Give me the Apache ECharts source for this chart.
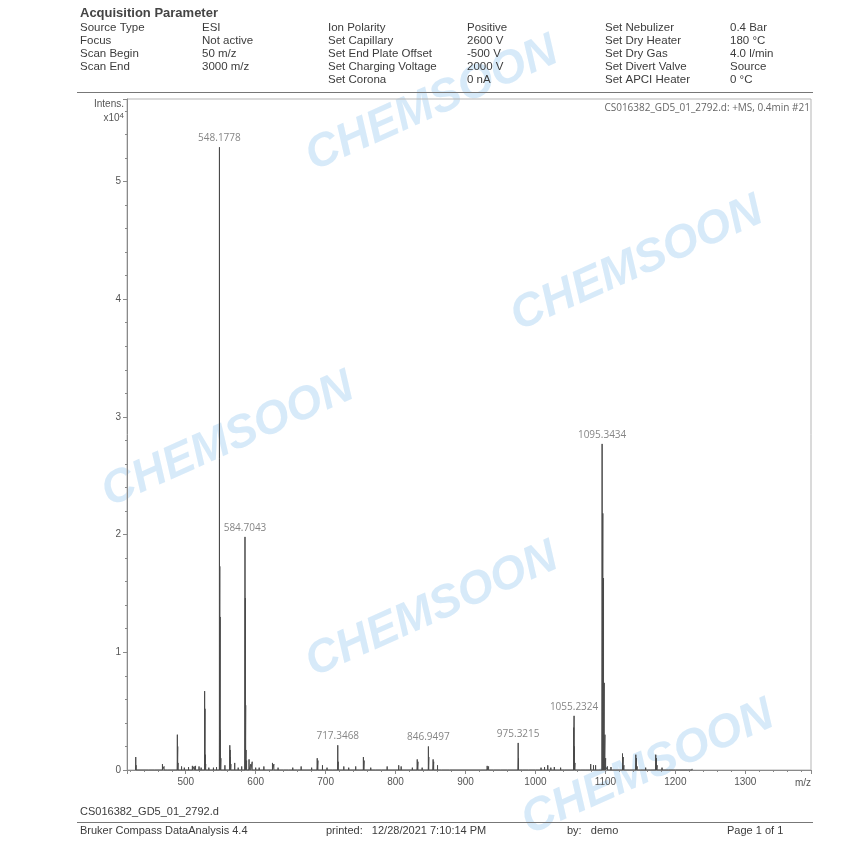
<!DOCTYPE html>
<html>
<head>
<meta charset="utf-8">
<script src="https://cdn.jsdelivr.net/npm/echarts@6/dist/echarts.min.js"></script>
<style>
  html, body { margin: 0; padding: 0; background: #fff; }
  #chart { width: 868px; height: 841px; }
</style>
</head>
<body>
<div id="chart"></div>
<script>
// Mass spectrum, +MS 0.4 min #21: peak centroids (m/z) and intensities (x10^4)
const mzValues = [
  428.5, 429.0, 436, 447, 455, 466.7, 469.0, 474, 488.0, 488.5, 489.0, 494.0, 498,
  504, 509.5, 512, 514.0, 519.0, 522, 527.0, 527.5, 528.0, 528.5, 533, 539.6, 544,
  548.1778, 548.68, 549.18, 549.68, 550.2, 556.0, 563.0, 563.5, 564.0, 564.5, 570.0,
  575, 580, 584.7043, 585.2, 585.7, 586.2, 587, 590.5, 593, 595.0, 600, 605, 611.7,
  616, 624.0, 626.0, 632, 640, 647, 653.0, 660, 665.0, 672, 680, 688.0, 689.0, 695.5,
  702, 710, 717.3468, 718, 726.0, 733, 743.0, 748, 754.0, 755.0, 764.5, 771, 780,
  788.0, 795, 804.5, 808.0, 815, 824.0, 831.0, 832.0, 838, 846.9497, 847.5, 853.7,
  854.5, 860.0, 866, 877, 885, 895, 905, 915, 922, 931.0, 933.0, 940, 950, 960, 968,
  975.3215, 975.8, 981, 990, 1000, 1008.0, 1013.0, 1017.6, 1022, 1027.0, 1036.0, 1042,
  1054.7, 1055.2324, 1055.7, 1056.5, 1064, 1071, 1079.0, 1083.0, 1086.0, 1090,
  1095.3434, 1096.35, 1097.35, 1098.35, 1099.35, 1100.35, 1103.0, 1108.0, 1115,
  1124.5, 1125.5, 1126.5, 1135, 1143.5, 1144.5, 1145.5, 1150, 1157.6, 1165, 1172.0,
  1173.0, 1174, 1181.0, 1190, 1200, 1217, 1224
];
const intensValues = [
  0.11, 0.04, 0.015, 0.012, 0.015, 0.05, 0.03, 0.015, 0.30, 0.20, 0.06, 0.03, 0.02,
  0.025, 0.035, 0.03, 0.035, 0.03, 0.02, 0.67, 0.52, 0.13, 0.05, 0.02, 0.02, 0.025,
  5.29, 1.73, 1.30, 0.34, 0.10, 0.04, 0.21, 0.17, 0.11, 0.05, 0.06,
  0.02, 0.03, 1.98, 1.46, 0.55, 0.17, 0.08, 0.09, 0.05, 0.07, 0.02, 0.02, 0.03,
  0.015, 0.06, 0.05, 0.02, 0.015, 0.015, 0.02, 0.015, 0.03, 0.015, 0.02, 0.10, 0.08, 0.04,
  0.02, 0.015, 0.21, 0.07, 0.03, 0.02, 0.03, 0.015, 0.11, 0.08, 0.02, 0.015, 0.015,
  0.03, 0.015, 0.04, 0.03, 0.015, 0.02, 0.09, 0.07, 0.02, 0.20, 0.11, 0.09,
  0.07, 0.04, 0.015, 0.015, 0.015, 0.012, 0.015, 0.012, 0.015, 0.035, 0.03, 0.015, 0.012, 0.012, 0.015,
  0.23, 0.10, 0.015, 0.015, 0.015, 0.02, 0.025, 0.04, 0.02, 0.025, 0.02, 0.015,
  0.36, 0.46, 0.20, 0.06, 0.015, 0.015, 0.05, 0.04, 0.04, 0.015,
  2.77, 2.18, 1.63, 0.74, 0.30, 0.10, 0.03, 0.025, 0.015,
  0.14, 0.11, 0.04, 0.015, 0.13, 0.10, 0.03, 0.015, 0.02, 0.015, 0.13,
  0.10, 0.04, 0.02, 0.012, 0.01, 0.01, 0.01
];
// Annotated peaks
const labeledMz = [548.1778, 584.7043, 717.3468, 846.9497, 975.3215, 1055.2324, 1095.3434];

// Axis ranges
const mzMin = 416, mzMax = 1394;
const intensMax = 5.7;

// Header block: [label, value] pairs by column
const headerCol1 = [['Source Type', 'ESI'], ['Focus', 'Not active'], ['Scan Begin', '50 m/z'], ['Scan End', '3000 m/z']];
const headerCol2 = [['Ion Polarity', 'Positive'], ['Set Capillary', '2600 V'], ['Set End Plate Offset', '-500 V'], ['Set Charging Voltage', '2000 V'], ['Set Corona', '0 nA']];
const headerCol3 = [['Set Nebulizer', '0.4 Bar'], ['Set Dry Heater', '180 °C'], ['Set Dry Gas', '4.0 l/min'], ['Set Divert Valve', 'Source'], ['Set APCI Heater', '0 °C']];

const spectrumTitle = 'CS016382_GD5_01_2792.d: +MS, 0.4min #21';
const footerName = 'CS016382_GD5_01_2792.d';
const footerItems = [
  ['Bruker Compass DataAnalysis 4.4', 80],
  ['printed:   12/28/2021 7:10:14 PM', 326],
  ['by:   demo', 567],
  ['Page 1 of 1', 727]
];
const watermarkText = 'CHEMSOON';
const watermarkCenters = [[432, 104], [637, 264], [228, 440], [432, 610], [648, 768]];

// Build stick profile: each peak rises from and returns to the baseline
const profile = [];
mzValues.forEach((m, i) => {
  profile.push([m, 0], [m, intensValues[i]], [m, 0]);
});
const labelPoints = labeledMz.map(m => [m, intensValues[mzValues.indexOf(m)]]);

const headerFont = 'Liberation Sans, Arial, sans-serif';
const textColor = '#3c3c3c';
const graphics = [];

// watermark (behind everything)
watermarkCenters.forEach(([x, y]) => {
  graphics.push({
    type: 'text', x, y, rotation: 0.42, z: -10, silent: true,
    style: {
      text: watermarkText, fill: 'rgba(205,229,247,0.8)',
      font: 'italic bold 46px Liberation Sans, Arial, sans-serif',
      align: 'center', verticalAlign: 'middle'
    }
  });
});

graphics.push({
  type: 'text', x: 80, y: 13,
  style: { text: 'Acquisition Parameter', font: 'bold 13px ' + headerFont, fill: '#444', verticalAlign: 'middle' }
});
const rowY = [28, 41, 54, 67, 80];
function addColumn(rows, xl, xv) {
  rows.forEach(([l, v], i) => {
    graphics.push({ type: 'text', x: xl, y: rowY[i], style: { text: l, font: '11.5px ' + headerFont, fill: textColor, verticalAlign: 'middle' } });
    graphics.push({ type: 'text', x: xv, y: rowY[i], style: { text: v, font: '11.5px ' + headerFont, fill: textColor, verticalAlign: 'middle' } });
  });
}
addColumn(headerCol1, 80, 202);
addColumn(headerCol2, 328, 467);
addColumn(headerCol3, 605, 730);
graphics.push({ type: 'line', shape: { x1: 77, y1: 92.5, x2: 813, y2: 92.5 }, style: { stroke: '#777', lineWidth: 1.2 } });

// plot annotations
graphics.push({
  type: 'text', x: 124, y: 104,
  style: { text: 'Intens.', font: '10px ' + headerFont, fill: '#555', align: 'right', verticalAlign: 'middle' }
});
graphics.push({
  type: 'text', x: 124, y: 118,
  style: {
    text: '{a|x10}{b|4}', align: 'right', verticalAlign: 'middle',
    rich: { a: { font: '10px ' + headerFont, fill: '#555' }, b: { font: '8px ' + headerFont, fill: '#555', verticalAlign: 'top', padding: [0, 0, 5, 0] } }
  }
});
graphics.push({
  type: 'text', x: 810, y: 108,
  style: { text: spectrumTitle, font: '10px Open Sans, sans-serif', fill: '#666', align: 'right', verticalAlign: 'middle' }
});
graphics.push({
  type: 'text', x: 811, y: 783,
  style: { text: 'm/z', font: '10px ' + headerFont, fill: '#555', align: 'right', verticalAlign: 'middle' }
});

// footer
graphics.push({ type: 'text', x: 80, y: 812, style: { text: footerName, font: '11px ' + headerFont, fill: textColor, verticalAlign: 'middle' } });
graphics.push({ type: 'line', shape: { x1: 77, y1: 822.5, x2: 813, y2: 822.5 }, style: { stroke: '#777', lineWidth: 1.2 } });
footerItems.forEach(([t, x]) => {
  graphics.push({ type: 'text', x, y: 831, style: { text: t, font: '11px ' + headerFont, fill: textColor, verticalAlign: 'middle' } });
});

const chart = echarts.init(document.getElementById('chart'), null, { renderer: 'canvas' });
chart.setOption({
  animation: false,
  backgroundColor: '#fff',
  graphic: graphics,
  grid: {
    left: 127, right: 57, top: 99, bottom: 71,
    show: true, borderColor: '#b5b5b5', borderWidth: 1, backgroundColor: 'transparent'
  },
  xAxis: {
    type: 'value', min: mzMin, max: mzMax, splitNumber: 10,
    axisLine: { lineStyle: { color: '#8a8a8a' } },
    axisTick: { length: 4, lineStyle: { color: '#8a8a8a' } },
    minorTick: { show: true, splitNumber: 5, length: 2, lineStyle: { color: '#8a8a8a' } },
    axisLabel: {
      color: '#555', fontSize: 10, fontFamily: headerFont, margin: 7,
      showMinLabel: false, showMaxLabel: false,
      formatter: v => String(v)
    },
    splitLine: { show: false }
  },
  yAxis: {
    type: 'value', min: 0, max: intensMax, interval: 1,
    axisLine: { show: true, lineStyle: { color: '#8a8a8a' } },
    axisTick: { show: true, length: 4, lineStyle: { color: '#8a8a8a' } },
    minorTick: { show: true, splitNumber: 5, length: 2, lineStyle: { color: '#8a8a8a' } },
    axisLabel: { color: '#555', fontSize: 10, fontFamily: headerFont, margin: 6, showMaxLabel: false },
    splitLine: { show: false }
  },
  series: [
    {
      type: 'line', data: profile, showSymbol: false, symbol: 'none',
      lineStyle: { width: 1, color: '#4a4a4a' }, z: 3
    },
    {
      type: 'scatter', data: labelPoints, symbolSize: 0.1, itemStyle: { color: 'transparent' },
      label: {
        show: true, position: 'top', distance: 4,
        fontFamily: 'Open Sans, sans-serif', fontSize: 10, color: '#666',
        formatter: p => p.value[0].toFixed(4)
      }, z: 4
    }
  ]
});
</script>
</body>
</html>
